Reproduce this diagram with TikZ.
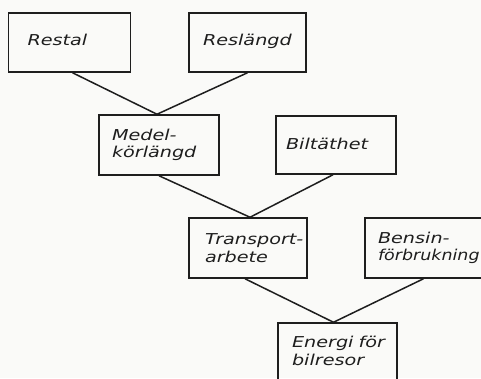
\documentclass[tikz,border=0pt]{standalone}
\usepackage{fontspec}
\newfontfamily\hand{DejaVu Sans}[FakeStretch=1.28]
\definecolor{ink}{HTML}{1E1E1E}
\definecolor{paper}{HTML}{FAFAF8}
\begin{document}
\begin{tikzpicture}[x=1pt,y=-1pt,
  box/.style={draw=ink, line width=1.5pt, align=left, inner sep=0pt,
    font=\hand\itshape\fontsize{15}{17.5}\selectfont, text=ink},
  conn/.style={draw=ink, line width=1.5pt}]
\fill[paper] (0,0) rectangle (481,378);
\useasboundingbox (0,0) rectangle (481,378);
\begin{scope}
\clip (0,0) rectangle (481,378);
\node[box, minimum width=122, minimum height=59, text width=84] (restal) at (69.5,42.5) {\raisebox{5pt}{Restal}};
\node[box, minimum width=117, minimum height=59, text width=89] (reslangd) at (247.5,42.5) {\raisebox{5pt}{Reslängd}};
\node[box, minimum width=120, minimum height=60, text width=94] (medel) at (159,145) {\mbox{Medel-}\\\mbox{körlängd}};
\node[box, minimum width=120, minimum height=58, text width=100] (bilt) at (336,145) {\raisebox{2pt}{Biltäthet}};
\node[box, minimum width=118, minimum height=60, text width=86] (transp) at (248,248) {\mbox{Transport-}\\\mbox{arbete}};
\node[box, minimum width=125, minimum height=60, text width=99] (bensin) at (427.5,248) {\mbox{Bensin-}\\\scalebox{0.91}[1]{förbrukning}};
\node[box, minimum width=119, minimum height=60, text width=91] (energi) at (337.5,353) {\raisebox{4pt}{\mbox{Energi för}}\\\raisebox{4pt}{\mbox{bilresor}}};
\draw[conn] ([xshift=3pt]restal.south) -- ([xshift=-2pt]medel.north);
\draw[conn] (reslangd.south) -- ([xshift=-2pt]medel.north);
\draw[conn] (medel.south) -- ([xshift=2pt]transp.north);
\draw[conn] ([xshift=-3pt]bilt.south) -- ([xshift=2pt]transp.north);
\draw[conn] ([xshift=-3pt]transp.south) -- ([xshift=-4pt]energi.north);
\draw[conn] ([xshift=-4pt]bensin.south) -- ([xshift=-4pt]energi.north);
\end{scope}
\end{tikzpicture}
\end{document}
